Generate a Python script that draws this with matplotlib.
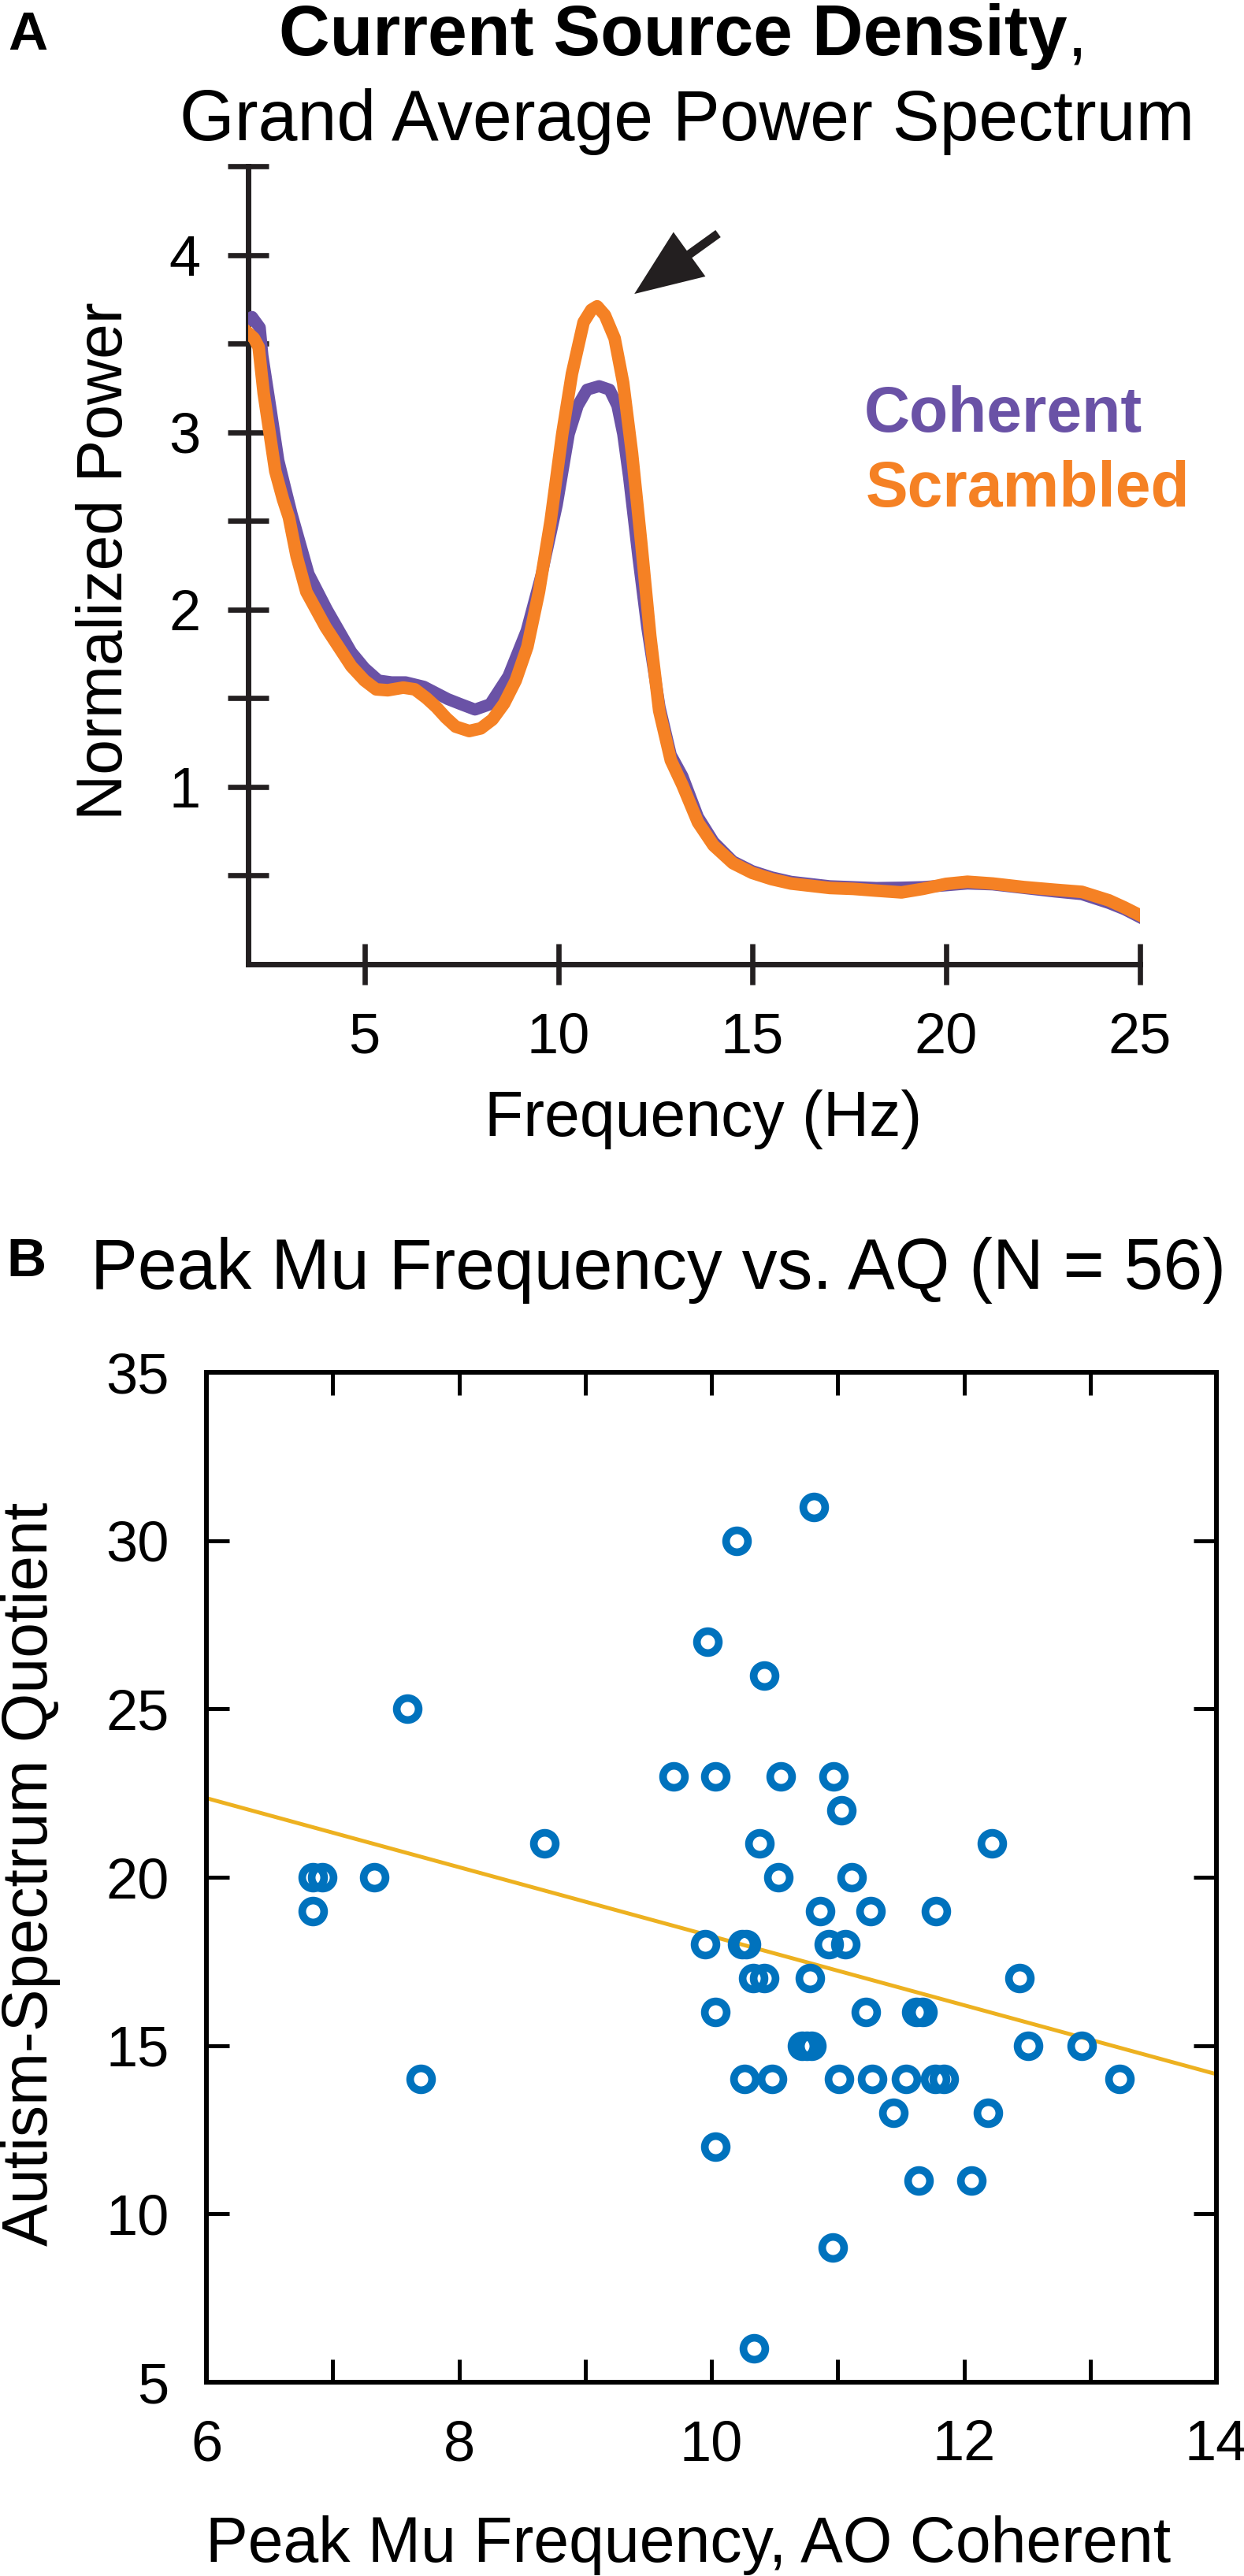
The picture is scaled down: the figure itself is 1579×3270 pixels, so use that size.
import numpy as np
import matplotlib
matplotlib.use("Agg")
import matplotlib.pyplot as plt

plt.rcParams['font.family'] = ['Liberation Sans', 'DejaVu Sans']

# ---- panel A data ----
freq_coh = [2.0, 2.1, 2.3, 2.37, 2.58, 2.78, 3.12, 3.56, 4.03, 4.66, 5.0, 5.36, 5.7,
            6.06, 6.53, 7.15, 7.5, 7.85, 8.24, 8.71, 9.18, 9.57, 9.96, 10.27, 10.5,
            10.74, 11.05, 11.32, 11.52, 11.67, 11.82, 12.06, 12.29, 12.61, 12.9,
            13.2, 13.6, 14.0, 14.5, 15.0, 15.5, 16.0, 17.0, 17.6, 18.2, 18.85,
            19.4, 20.0, 20.55, 21.2, 22.0, 22.8, 23.5, 24.2, 24.6, 25.0]
coherent = [3.63, 3.65, 3.59, 3.43, 3.13, 2.84, 2.54, 2.20, 2.00, 1.76, 1.67, 1.60, 1.59,
            1.59, 1.565, 1.495, 1.465, 1.436, 1.466, 1.624, 1.88, 2.20, 2.59, 2.99, 3.15,
            3.24, 3.26, 3.24, 3.15, 2.99, 2.75, 2.30, 1.90, 1.45, 1.18,
            1.06, 0.83, 0.69, 0.58, 0.525, 0.49, 0.465, 0.44, 0.435, 0.43, 0.432,
            0.435, 0.445, 0.455, 0.45, 0.43, 0.41, 0.395, 0.345, 0.31, 0.265]

freq_scr = [2.0, 2.15, 2.27, 2.4, 2.55, 2.7, 2.9, 3.05, 3.25, 3.5, 3.75, 4.0, 4.3, 4.66,
            5.0, 5.3, 5.6, 6.0, 6.3, 6.6, 6.85, 7.1, 7.35, 7.7, 8.0, 8.3, 8.6, 8.9,
            9.2, 9.5, 9.8, 10.1, 10.35, 10.65, 10.85, 11.0, 11.2, 11.45, 11.67, 11.9,
            12.14, 12.37, 12.6, 12.9, 13.2, 13.6, 14.0, 14.5, 15.0, 15.5, 16.0, 17.0,
            17.6, 18.2, 18.85, 19.4, 20.0, 20.55, 21.2, 22.0, 22.8, 23.5, 24.2, 24.6, 25.0]
scrambled = [3.56, 3.53, 3.48, 3.22, 3.00, 2.78, 2.62, 2.52, 2.30, 2.10, 2.00, 1.90, 1.80, 1.68,
             1.60, 1.55, 1.545, 1.56, 1.55, 1.50, 1.45, 1.39, 1.34, 1.315, 1.33, 1.38, 1.47, 1.60,
             1.79, 2.10, 2.50, 2.99, 3.33, 3.62, 3.69, 3.71, 3.66, 3.53, 3.28, 2.88,
             2.37, 1.85, 1.43, 1.15, 1.01, 0.80, 0.67, 0.57, 0.515, 0.48, 0.455, 0.43,
             0.425, 0.415, 0.405, 0.425, 0.453, 0.465, 0.455, 0.435, 0.42, 0.408, 0.36, 0.32, 0.276]

arrow_tip = (11.96, 3.78)
arrow_tail = (14.12, 4.12)

# ---- panel B data ----
mu_freq = [10.81, 10.20, 9.97, 10.42, 7.59,
           9.70, 10.03, 10.55, 10.97, 11.03,
           8.68, 10.38, 12.22,
           6.84, 6.92, 7.33, 10.53, 11.11,
           6.84, 10.86, 11.26, 11.78,
           9.95, 10.245, 10.275, 10.93, 11.06,
           10.33, 10.42, 10.78, 12.44,
           10.03, 11.22, 11.625, 11.67,
           10.715, 10.755, 10.795, 12.51, 12.93,
           7.70, 10.26, 10.48, 11.01, 11.27, 11.54, 11.77, 11.84, 13.23,
           11.44, 12.19,
           10.03,
           11.64, 12.06,
           10.96,
           10.34]
aq = [31, 30, 27, 26, 25,
      23, 23, 23, 23, 22,
      21, 21, 21,
      20, 20, 20, 20, 20,
      19, 19, 19, 19,
      18, 18, 18, 18, 18,
      17, 17, 17, 17,
      16, 16, 16, 16,
      15, 15, 15, 15, 15,
      14, 14, 14, 14, 14, 14, 14, 14, 14,
      13, 13,
      12,
      11, 11,
      9,
      6]
fit_x = [6, 14]
fit_y = [22.35, 14.15]

PURPLE = '#6A52A6'
ORANGE = '#F58124'
BLUE = '#0072BD'
GOLD = '#EDB120'
DARK = '#231F20'

W, H = 1579, 3270
fig = plt.figure(figsize=(W / 100, H / 100), dpi=100)

def fx(px):
    return px / W

def fy(py):
    return 1 - py / H

# ================= Panel A =================
axA = fig.add_axes([fx(315), fy(1224), 1132 / W, 1013 / H])
axA.plot(freq_coh, coherent, color=PURPLE, lw=11, zorder=3, solid_joinstyle='round')
axA.plot(freq_scr, scrambled, color=ORANGE, lw=11.5, zorder=4, solid_joinstyle='round')
axA.set_xlim(2, 25)
axA.set_ylim(0, 4.5)
for s in ['top', 'right']:
    axA.spines[s].set_visible(False)
for s in ['left', 'bottom']:
    axA.spines[s].set_linewidth(5)
    axA.spines[s].set_color(DARK)
axA.set_xticks([5, 10, 15, 20, 25])
yt = np.arange(0.5, 4.51, 0.5)
axA.set_yticks(yt)
axA.set_yticklabels(['%d' % v if v == int(v) else '' for v in yt])
axA.tick_params(direction='inout', length=37.5, width=4.8, color=DARK,
                labelsize=52, pad=25)

axA.set_xlabel('Frequency (Hz)', fontsize=58)
axA.xaxis.label.set_va('baseline')
axA.xaxis.set_label_coords(0.51, (1224 - 1442) / 1013)
axA.set_ylabel('Normalized Power', fontsize=58)
axA.yaxis.label.set(va='baseline', ha='center', rotation_mode='anchor')
axA.yaxis.set_label_coords((155 - 315) / 1132, 0.505)

# arrow pointing at the alpha/mu peak
axA.annotate('', xy=arrow_tip, xytext=arrow_tail, annotation_clip=False,
             arrowprops=dict(facecolor=DARK, edgecolor='none', width=8,
                             headwidth=50, headlength=62, shrink=0))

fig.text(fx(1097), fy(548), 'Coherent', color=PURPLE, fontsize=58,
         fontweight='bold', va='baseline')
fig.text(fx(1099), fy(643), 'Scrambled', color=ORANGE, fontsize=58,
         fontweight='bold', va='baseline')

fig.text(fx(10), fy(63), 'A', fontsize=50, fontweight='bold', va='baseline')
t1 = fig.text(fx(354), fy(70), 'Current Source Density', fontsize=64.5,
              fontweight='bold', va='baseline')
axA.annotate(',', xy=(1, 0), xycoords=t1, fontsize=64.5, va='bottom', ha='left')
fig.text(fx(872), fy(178), 'Grand Average Power Spectrum', fontsize=64.5,
         ha='center', va='baseline')

# ================= Panel B =================
axB = fig.add_axes([fx(262), fy(3024), 1282 / W, 1282 / H])
axB.plot(fit_x, fit_y, color=GOLD, lw=3.6, zorder=2)
axB.plot(mu_freq, aq, ls='none', marker='o', ms=20, mew=7, mfc='none',
         mec=BLUE, zorder=3)
axB.set_xlim(6, 14)
axB.set_ylim(5, 35)
axB.set_xticks(range(6, 15))
axB.set_xticklabels([str(v) if v % 2 == 0 else '' for v in range(6, 15)])
axB.set_yticks(range(5, 36, 5))
axB.tick_params(direction='in', length=21, width=3.6, top=True, right=True,
                labelsize=52, pad=34, color='black')
for s in axB.spines.values():
    s.set_linewidth(4.3)

axB.set_xlabel('Peak Mu Frequency, AO Coherent', fontsize=58)
axB.xaxis.label.set_va('baseline')
axB.xaxis.set_label_coords((874 - 262) / 1282, (3024 - 3252) / 1282)
axB.set_ylabel('Autism-Spectrum Quotient', fontsize=58)
axB.yaxis.label.set(va='baseline', ha='center', rotation_mode='anchor')
axB.yaxis.set_label_coords((60 - 262) / 1282, 0.503)

fig.text(fx(8), fy(1620), 'B', fontsize=50, fontweight='bold', va='baseline')
fig.text(fx(115), fy(1636), 'Peak Mu Frequency vs. AQ (N = 56)', fontsize=64.5,
         va='baseline')

fig.savefig('out.png', dpi=100)
